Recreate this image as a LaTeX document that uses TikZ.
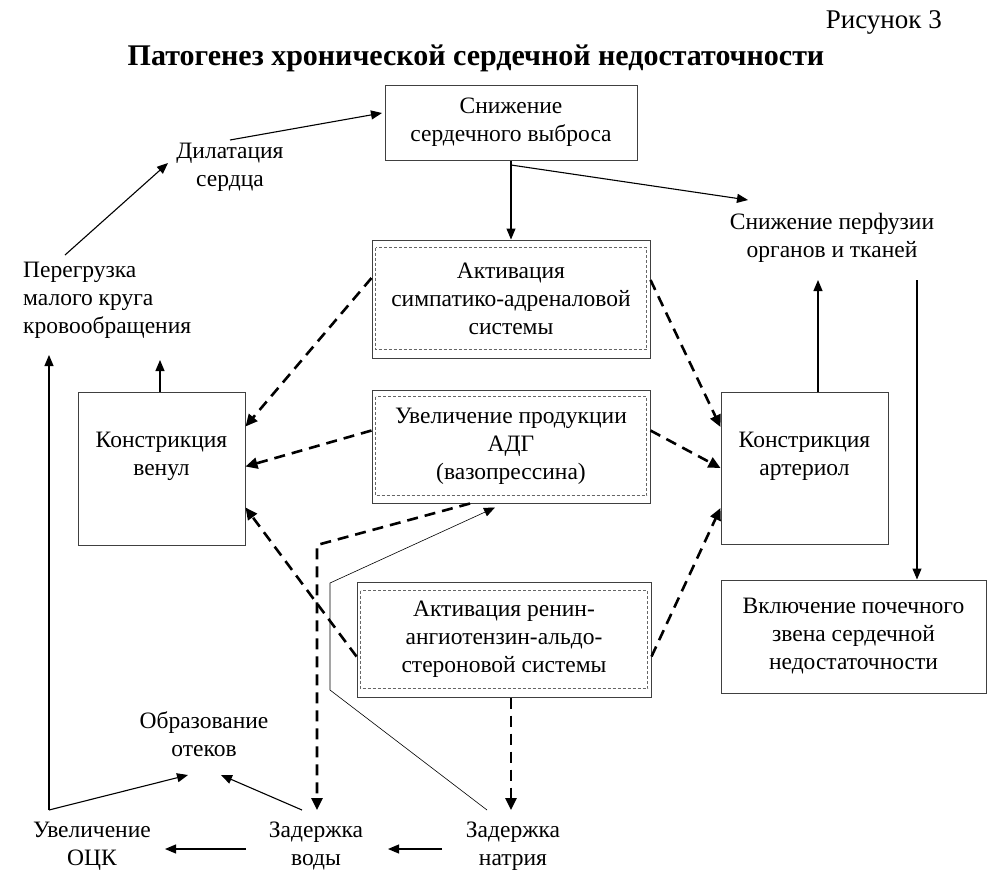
\documentclass[tikz,border=0pt]{standalone}
\usepackage{fontspec}
\setmainfont{Liberation Serif}
\usetikzlibrary{arrows.meta}
\begin{document}
\begin{tikzpicture}[x=1pt,y=-1pt,
  every node/.style={font=\fontsize{23.5}{28}\selectfont, inner sep=0pt},
  box/.style={draw=black!75, line width=1pt, rectangle},
  inbox/.style={draw=black!60, line width=0.7pt, dash pattern=on 3pt off 2pt},
  txt/.style={align=center},
  sarr/.style={line width=1.1pt, -{Triangle[length=11pt,width=9pt]}},
  darr/.style={line width=2.6pt, dash pattern=on 11pt off 7pt, -{Triangle[length=12pt,width=11pt]}},
  tarr/.style={line width=0.6pt, -{Triangle[length=11pt,width=9pt]}},
]
\useasboundingbox (0,0) rectangle (991,879);

% titles
\node[anchor=east, font=\fontsize{27}{30}\selectfont] (fig) at (942,22) {Рисунок 3};
\node[font=\fontsize{30}{34}\selectfont\bfseries] (title) at (476,58) {Патогенез хронической сердечной недостаточности};

% boxes
\node[box, minimum width=252pt, minimum height=75pt, txt] (out) at (511,122.5) {Снижение\\сердечного выброса};
\node[box, minimum width=278pt, minimum height=118pt, txt] (sas) at (511,299) {Активация\\симпатико-адреналовой\\системы};
\node[box, minimum width=278pt, minimum height=113pt, txt] (adg) at (511,446.5) {Увеличение продукции\\АДГ\\(вазопрессина)};
\node[box, minimum width=294pt, minimum height=115pt, txt] (raas) at (504,639.5) {Активация ренин-\\ангиотензин-альдо-\\стероновой системы};
\node[box, minimum width=167pt, minimum height=153pt] (ven) at (161.5,468.5) {};
\node[txt] (ventxt) at (161.5,456) {Констрикция\\венул};
\node[box, minimum width=167pt, minimum height=152pt] (art) at (804.5,468) {};
\node[txt] (arttxt) at (804.5,456) {Констрикция\\артериол};
\node[box, minimum width=265pt, minimum height=113pt, txt] (kid) at (853.5,636.5) {Включение почечного\\звена сердечной\\недостаточности};

% inner dotted frames
\draw[inbox] ([shift={(4pt,-8pt)}]sas.north west) rectangle ([shift={(-4pt,9pt)}]sas.south east);
\draw[inbox] ([shift={(4pt,-7pt)}]adg.north west) rectangle ([shift={(-4pt,8pt)}]adg.south east);
\draw[inbox] ([shift={(4pt,-9pt)}]raas.north west) rectangle ([shift={(-4pt,9pt)}]raas.south east);

% text nodes
\node[txt] (dil) at (230,167) {Дилатация\\сердца};
\node[txt] (perf) at (832,238) {Снижение перфузии\\органов и тканей};
\node[align=left, anchor=west] (over) at (23,300) {Перегрузка\\малого круга\\кровообращения};
\node[txt] (edema) at (204,734) {Образование\\отеков};
\node[txt] (ock) at (92,846) {Увеличение\\ОЦК};
\node[txt] (water) at (316,846) {Задержка\\воды};
\node[txt] (na) at (513,846) {Задержка\\натрия};

% coordinates for connector ends
\coordinate (dilS) at (230,140);
\coordinate (outW) at (382,113);
\coordinate (overS) at (65,255);
\coordinate (dilE) at (168,163);
\coordinate (outB) at (511,165);
\coordinate (perfT) at (748,200);
\coordinate (perfB1) at (818,280);
\coordinate (perfB2) at (917,280);
\coordinate (overB) at (49,355);
\coordinate (venT) at (160,360);
\coordinate (ockC) at (49,810);
\coordinate (edL) at (188,775);
\coordinate (edR) at (221,775);
\coordinate (watS) at (302,810);
\coordinate (naL) at (442,849);
\coordinate (watR) at (388,849);
\coordinate (watL) at (246,849);
\coordinate (ockR) at (165,849);
\coordinate (wbend) at (317,545);
\coordinate (wtop) at (317,810);
\coordinate (natop) at (511,810);
\coordinate (naS) at (487,810);
\coordinate (tb1) at (330,690);
\coordinate (tb2) at (330,583);

% solid arrows
\draw[sarr] (dilS) -- (outW);
\draw[sarr] (overS) -- (dilE);
\draw[sarr] (out.south) -- (sas.north);
\draw[sarr] (outB) -- (perfT);
\draw[sarr] (art.north -| perfB1) -- (perfB1);
\draw[sarr] (perfB2) -- (kid.north -| perfB2);
\draw[sarr] (ven.north -| venT) -- (venT);
\draw[sarr] (ockC) -- (overB);
\draw[sarr] (ockC) -- (edL);
\draw[sarr] (watS) -- (edR);
\draw[sarr] (naL) -- (watR);
\draw[sarr] (watL) -- (ockR);

% thin line
\draw[tarr] (naS) -- (tb1) -- (tb2) -- ([shift={(-16pt,-4pt)}]adg.south);

% dashed arrows
\draw[darr] ([yshift=21pt]sas.west) -- ([yshift=42pt]ven.east);
\draw[darr] ([yshift=19pt]sas.east) -- ([yshift=41pt]art.west);
\draw[darr] ([yshift=16pt]adg.west) -- ([yshift=2pt]ven.east);
\draw[darr] ([yshift=16pt]adg.east) -- (art.west);
\draw[darr] ([yshift=-17pt]raas.west) -- ([yshift=-39pt]ven.east);
\draw[darr] ([yshift=-17pt]raas.east) -- ([yshift=-40pt]art.west);
\draw[darr] ([xshift=7pt]raas.south) -- (natop);
\draw[darr] ([xshift=-41pt]adg.south) -- (wbend) -- (wtop);
\end{tikzpicture}
\end{document}
